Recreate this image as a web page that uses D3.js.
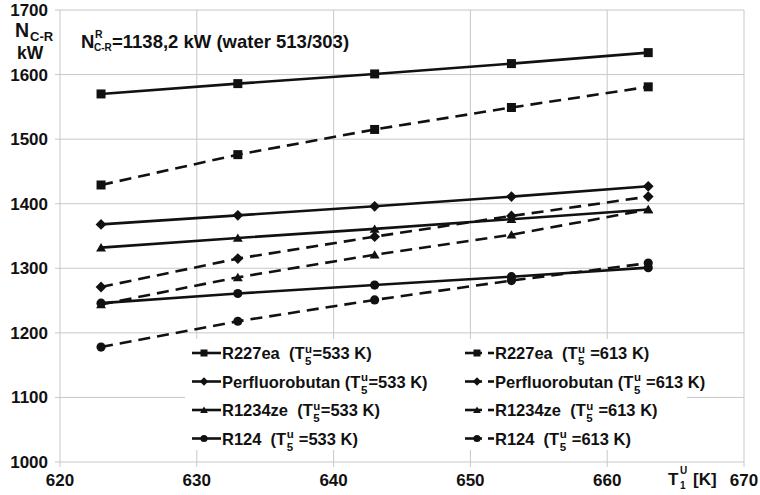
<!DOCTYPE html>
<html><head><meta charset="utf-8">
<script src="https://cdn.jsdelivr.net/npm/d3@7"></script>
<style>body{margin:0;background:#fff}svg{display:block}text{font-family:"Liberation Sans",Arial,sans-serif;font-weight:bold;fill:#111;white-space:pre}</style>
</head><body><svg id="c" width="760" height="495"></svg>
<script>
const xValues = [623, 633, 643, 653, 663];
const xTicks = [620, 630, 640, 650, 660, 670];
const yTicks = [1000, 1100, 1200, 1300, 1400, 1500, 1600, 1700];
const r227ea533 = [1570, 1586, 1601, 1617, 1634];
const r227ea613 = [1429, 1476, 1515, 1549, 1581];
const perf533 = [1368, 1382, 1396, 1411, 1427];
const perf613 = [1271, 1315, 1349, 1381, 1411];
const r1234ze533 = [1332, 1347, 1361, 1376, 1391];
const r1234ze613 = [1244, 1286, 1321, 1352, 1391];
const r124533 = [1246, 1261, 1274, 1287, 1301];
const r124613 = [1178, 1218, 1251, 1281, 1308];
const series = [
  {name:"R227ea", vals:r227ea533, dash:false, sym:"square", col:0, row:0, sp1:"  (T", sp2:"=533 K)"},
  {name:"R227ea", vals:r227ea613, dash:true, sym:"square", col:1, row:0, sp1:"  (T", sp2:" =613 K)"},
  {name:"Perfluorobutan", vals:perf533, dash:false, sym:"diamond", col:0, row:1, sp1:" (T", sp2:"=533 K)"},
  {name:"Perfluorobutan", vals:perf613, dash:true, sym:"diamond", col:1, row:1, sp1:" (T", sp2:" =613 K)"},
  {name:"R1234ze", vals:r1234ze533, dash:false, sym:"triangle", col:0, row:2, sp1:"  (T", sp2:"=533 K)"},
  {name:"R1234ze", vals:r1234ze613, dash:true, sym:"triangle", col:1, row:2, sp1:"  (T", sp2:" =613 K)"},
  {name:"R124", vals:r124533, dash:false, sym:"circle", col:0, row:3, sp1:"  (T", sp2:" =533 K)"},
  {name:"R124", vals:r124613, dash:true, sym:"circle", col:1, row:3, sp1:"  (T", sp2:" =613 K)"}
];

const svg = d3.select("#c");
const x = d3.scaleLinear().domain([620, 670]).range([60, 744]);
const y = d3.scaleLinear().domain([1000, 1700]).range([462, 10]);
const ink = "#111";

const g = svg.append("g");
g.selectAll("line.v").data(xTicks).join("line")
  .attr("x1", d => x(d)).attr("x2", d => x(d)).attr("y1", y(1700)).attr("y2", y(1000))
  .attr("stroke", "#c8c8c8").attr("stroke-width", 1);
g.selectAll("line.h").data(yTicks).join("line")
  .attr("y1", d => y(d)).attr("y2", d => y(d)).attr("x1", x(620)).attr("x2", x(670))
  .attr("stroke", "#c8c8c8").attr("stroke-width", 1);
g.selectAll("line.yt").data(yTicks).join("line")
  .attr("y1", d => y(d)).attr("y2", d => y(d)).attr("x1", x(620) - 5).attr("x2", x(620))
  .attr("stroke", "#c8c8c8");
g.selectAll("line.xt").data(xTicks).join("line")
  .attr("x1", d => x(d)).attr("x2", d => x(d)).attr("y1", y(1000)).attr("y2", y(1000) + 5)
  .attr("stroke", "#c8c8c8");

svg.selectAll("text.yl").data(yTicks).join("text")
  .attr("x", 48).attr("y", d => y(d) + 6).attr("text-anchor", "end")
  .attr("font-size", 17).text(d => d);
svg.selectAll("text.xl").data(xTicks).join("text")
  .attr("x", d => x(d)).attr("y", 486).attr("text-anchor", "middle")
  .attr("font-size", 17).text(d => d);

// y title
svg.append("text").attr("x", 15).attr("y", 37).attr("font-size", 19.5).text("N");
svg.append("text").attr("x", 30).attr("y", 41).attr("font-size", 13).text("C-R");
svg.append("text").attr("x", 17).attr("y", 59).attr("font-size", 17.5).text("kW");

// x title
svg.append("text").attr("x", 668).attr("y", 485).attr("font-size", 17).text("T");
svg.append("text").attr("x", 680).attr("y", 474).attr("font-size", 10).text("U");
svg.append("text").attr("x", 680).attr("y", 489).attr("font-size", 10).text("1");
svg.append("text").attr("x", 693).attr("y", 485).attr("font-size", 17).text("[K]");

// annotation
svg.append("text").attr("x", 81).attr("y", 48).attr("font-size", 18.5).text("N");
svg.append("text").attr("x", 95).attr("y", 38).attr("font-size", 10.5).text("R");
svg.append("text").attr("x", 94).attr("y", 51).attr("font-size", 10).text("C-R");
svg.append("text").attr("x", 112).attr("y", 48).attr("font-size", 18.5).text("=1138,2 kW (water 513/303)");

function symPath(type, s) {
  const h = s / 2;
  if (type === "square") return `M${-h},${-h}H${h}V${h}H${-h}Z`;
  if (type === "diamond") { const a = h * 1.2; return `M0,${-a}L${a},0L0,${a}L${-a},0Z`; }
  if (type === "triangle") return `M0,${-h * 1.0}L${h * 1.1},${h * 0.85}L${-h * 1.1},${h * 0.85}Z`;
  return d3.arc()({innerRadius: 0, outerRadius: h * 1.02, startAngle: 0, endAngle: 2 * Math.PI});
}

const line = d3.line().x((d, i) => x(xValues[i])).y(d => y(d));
const plot = svg.append("g");
series.forEach(s => {
  plot.append("path").attr("d", line(s.vals)).attr("fill", "none").attr("stroke", ink)
    .attr("stroke-width", 2.6).attr("stroke-dasharray", s.dash ? "12,7" : null);
});
series.forEach(s => {
  plot.selectAll(null).data(s.vals).join("path")
    .attr("transform", (d, i) => `translate(${x(xValues[i])},${y(d)})`)
    .attr("d", symPath(s.sym, 9)).attr("fill", ink);
});

// legend
svg.append("rect").attr("x", 185).attr("y", 339).attr("width", 502).attr("height", 111).attr("fill", "#fff");
const colX = [192, 465];
const rowY = [353, 381.5, 410, 438.5];
series.forEach(s => {
  const lx = colX[s.col], ly = rowY[s.row];
  const lg = svg.append("g");
  if (s.dash) {
    lg.append("line").attr("x1", lx).attr("x2", lx + 17).attr("y1", ly).attr("y2", ly).attr("stroke", ink).attr("stroke-width", 2.6);
    lg.append("line").attr("x1", lx + 23).attr("x2", lx + 29).attr("y1", ly).attr("y2", ly).attr("stroke", ink).attr("stroke-width", 2.6);
  } else {
    lg.append("line").attr("x1", lx).attr("x2", lx + 29).attr("y1", ly).attr("y2", ly).attr("stroke", ink).attr("stroke-width", 2.6);
  }
  lg.append("path").attr("transform", `translate(${lx + 12},${ly})`).attr("d", symPath(s.sym, 7)).attr("fill", ink);
  const tx = lx + 30;
  const t1 = lg.append("text").attr("x", tx).attr("y", ly + 6).attr("font-size", 16.5).text(s.name + s.sp1);
  const w1 = t1.node().getComputedTextLength();
  lg.append("text").attr("x", tx + w1 + 0.5).attr("y", ly - 0.5).attr("font-size", 11.5).text("u");
  lg.append("text").attr("x", tx + w1 + 0.5).attr("y", ly + 12).attr("font-size", 11.5).text("5");
  lg.append("text").attr("x", tx + w1 + 8).attr("y", ly + 6).attr("font-size", 16.5).text(s.sp2);
});
</script></body></html>
